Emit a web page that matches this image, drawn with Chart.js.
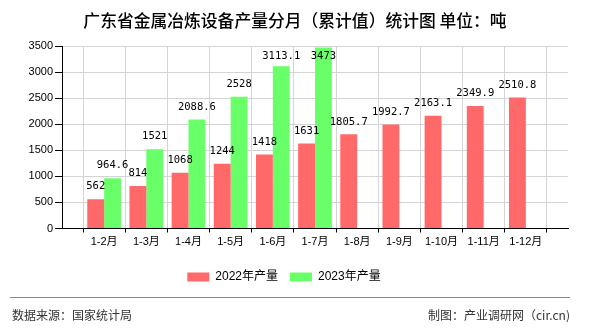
<!DOCTYPE html>
<html>
<head>
<meta charset="utf-8">
<script src="https://cdn.jsdelivr.net/npm/chart.js@4/dist/chart.umd.min.js"></script>
<style>
    html, body { margin: 0; padding: 0; background: #fff; }
    #wrap { width: 590px; height: 330px; }
</style>
</head>
<body>
<div id="wrap"><canvas id="barChart" width="590" height="330"></canvas></div>
<script>
// 数据
const categories = ["1-2月", "1-3月", "1-4月", "1-5月", "1-6月", "1-7月", "1-8月", "1-9月", "1-10月", "1-11月", "1-12月"];
const output2022 = [562, 814, 1068, 1244, 1418, 1631, 1805.7, 1992.7, 2163.1, 2349.9, 2510.8];
const output2023 = [964.6, 1521, 2088.6, 2528, 3113.1, 3473];
const yTicks = [0, 500, 1000, 1500, 2000, 2500, 3000, 3500];
const seriesNames = ["2022年产量", "2023年产量"];
const titleText = "广东省金属冶炼设备产量分月（累计值）统计图 单位：吨";
const sourceText = "数据来源：国家统计局";
const makerText = "制图：产业调研网（cir.cn)";

// 两端各留一个空位
const axisLabels = ["", ...categories, ""];
function pad(values) {
    const out = [null];
    for (let i = 0; i < categories.length; i++) {
        out.push(i < values.length ? values[i] : null);
    }
    out.push(null);
    return out;
}

const cjk = '"Noto Sans CJK SC", sans-serif';

// 标题、页脚
const decorPlugin = {
    id: "decor",
    afterDraw(chart) {
        const ctx = chart.ctx;
        ctx.save();
        ctx.fillStyle = "#000";
        ctx.font = "500 16.8px " + cjk;
        ctx.textAlign = "center";
        ctx.textBaseline = "middle";
        ctx.fillText(titleText, 295, 21);

        ctx.strokeStyle = "#888";
        ctx.lineWidth = 1;
        ctx.beginPath();
        ctx.moveTo(10, 297.5);
        ctx.lineTo(570, 297.5);
        ctx.stroke();

        ctx.fillStyle = "#333";
        ctx.font = "12px " + cjk;
        ctx.textAlign = "left";
        ctx.fillText(sourceText, 12, 315);
        ctx.textAlign = "right";
        ctx.fillText(makerText, 570, 315);
        ctx.restore();
    },
};

// 柱顶数值
const valueLabelPlugin = {
    id: "valueLabels",
    afterDatasetsDraw(chart) {
        const ctx = chart.ctx;
        const top = chart.chartArea.top;
        ctx.save();
        ctx.fillStyle = "#000";
        ctx.font = '10.5px "DejaVu Sans Mono", monospace';
        ctx.textAlign = "center";
        ctx.textBaseline = "middle";
        chart.data.datasets.forEach((ds, i) => {
            const meta = chart.getDatasetMeta(i);
            meta.data.forEach((bar, j) => {
                const v = ds.data[j];
                if (v === null || v === undefined) return;
                const y = Math.max(bar.y - 12.5, top + 10);
                ctx.fillText(String(v), bar.x, y);
            });
        });
        ctx.restore();
    },
};

const barCtx = document.getElementById("barChart").getContext("2d");
new Chart(barCtx, {
    type: "bar",
    data: {
        labels: axisLabels,
        datasets: [
            {
                label: seriesNames[0],
                data: pad(output2022),
                backgroundColor: "#ff6969",
                categoryPercentage: 0.8,
                barPercentage: 1,
            },
            {
                label: seriesNames[1],
                data: pad(output2023),
                backgroundColor: "#69ff69",
                categoryPercentage: 0.8,
                barPercentage: 1,
            },
        ],
    },
    options: {
        responsive: false,
        animation: false,
        devicePixelRatio: 1,
        layout: { padding: { top: 46, right: 22, bottom: 37, left: 0 } },
        plugins: {
            tooltip: { enabled: false },
            legend: {
                position: "bottom",
                labels: {
                    boxWidth: 22,
                    boxHeight: 9,
                    padding: 12,
                    color: "#000",
                    font: { size: 12, family: '"Liberation Sans", ' + cjk },
                },
            },
        },
        scales: {
            x: {
                offset: false,
                grid: { color: "#d4d4d4", tickColor: "#000", tickLength: 4 },
                border: { color: "#000" },
                ticks: {
                    color: "#000",
                    padding: 3,
                    autoSkip: false,
                    maxRotation: 0,
                    font: { size: 11, family: '"Liberation Sans", ' + cjk },
                },
                afterFit(scale) { scale.height = 30.5; },
            },
            y: {
                min: 0,
                max: 3500,
                grid: { color: "#d4d4d4", tickColor: "#000", tickLength: 7 },
                border: { color: "#000" },
                ticks: {
                    color: "#000",
                    padding: 2,
                    font: { size: 11, family: '"Liberation Sans", sans-serif' },
                    callback: v => String(v),
                },
                afterBuildTicks(scale) { scale.ticks = yTicks.map(v => ({ value: v })); },
                afterFit(scale) { scale.width = 62; },
            },
        },
    },
    plugins: [decorPlugin, valueLabelPlugin],
});
</script>
</body>
</html>
